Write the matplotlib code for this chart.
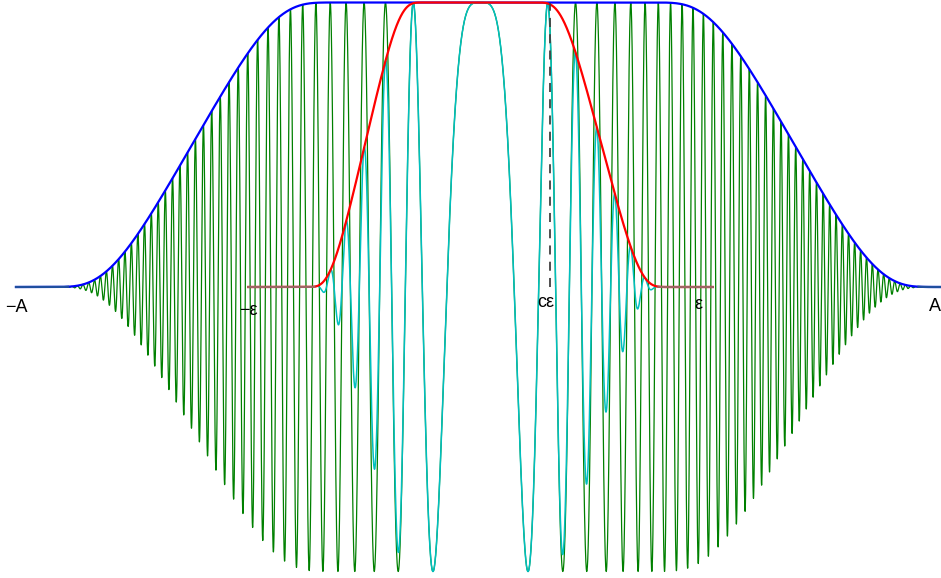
import numpy as np
import matplotlib
matplotlib.use('Agg')
import matplotlib.pyplot as plt

# Valores (unidades de A, centro do chirp em x = 0)
A = 1.0
eps = 0.5
c = 0.3
primeiro_minimo = 0.1023          # distancia do centro ao primeiro vale do chirp
k = np.pi / primeiro_minimo**2    # fase = k * x^2

# envelope azul: vale 1 ate o 1o valor e 0 a partir do 2o (esquerda / direita)
azul_esq = (0.266, 0.976)
azul_dir = (0.321, 1.031)
# envelope vermelho (dentro de [-eps, eps])
verm_esq = (0.104, 0.394)
verm_dir = (0.097, 0.424)

rotulos = ['\u2212A', '\u2212\u03b5', 'c\u03b5', '\u03b5', 'A']
rotulos_x = [-A, -eps, c * eps - 0.01, eps - 0.03, A - 0.022]
rotulos_base = [-0.088, -0.098, -0.070, -0.077, -0.084]


def degrau(x, esq, dir_):
    # degrau suave C-infinito, com lados diferentes
    y = np.ones_like(x)
    for lado, (a, b) in ((x < 0, esq), (x >= 0, dir_)):
        t = np.clip((b - np.abs(x[lado])) / (b - a), 1e-9, 1 - 1e-9)
        g = np.clip(1 / t - 1 / (1 - t), -700, 700)
        y[lado] = 1 / (1 + np.exp(g))
    return y


x = np.linspace(-A, A, 40001)
env_azul = degrau(x, azul_esq, azul_dir)
verde = np.cos(k * x**2) * env_azul

xe = np.linspace(-eps, eps, 20001)
env_verm = degrau(xe, verm_esq, verm_dir)
ciano = np.cos(k * xe**2) * env_verm

fig = plt.figure(figsize=(9.41, 5.78), dpi=100)
ax = fig.add_axes([0, 0, 1, 1])

ax.plot(x, verde, color='#008000', lw=0.9)
ax.plot(x, env_azul, color='#0000ff', lw=1.6)
ax.plot(x, np.where(env_azul > 1e-3, np.nan, env_azul), color='#1f4f9f', lw=1.6)
ax.plot(xe, ciano, color='#00bfbf', lw=1.1)
ax.plot(xe, env_verm, color='#ff0000', lw=1.6)
ax.plot(xe, np.where(env_verm > 1e-3, np.nan, env_verm), color='#a06464', lw=1.6)
ax.plot([c * eps, c * eps], [0, 1], color='#404040', lw=1.3, linestyle=(0, (5, 4)))

for txt, tx, ty in zip(rotulos, rotulos_x, rotulos_base):
    ax.text(tx, ty, txt, ha='center', va='baseline', fontsize=13,
            family=['Liberation Sans', 'DejaVu Sans'])

ax.set_xlim(-480.5 / 464.5, 460.5 / 464.5)
ax.set_ylim(-291 / 284.5, 287 / 284.5)
ax.axis('off')

plt.savefig('out.png', dpi=100)
